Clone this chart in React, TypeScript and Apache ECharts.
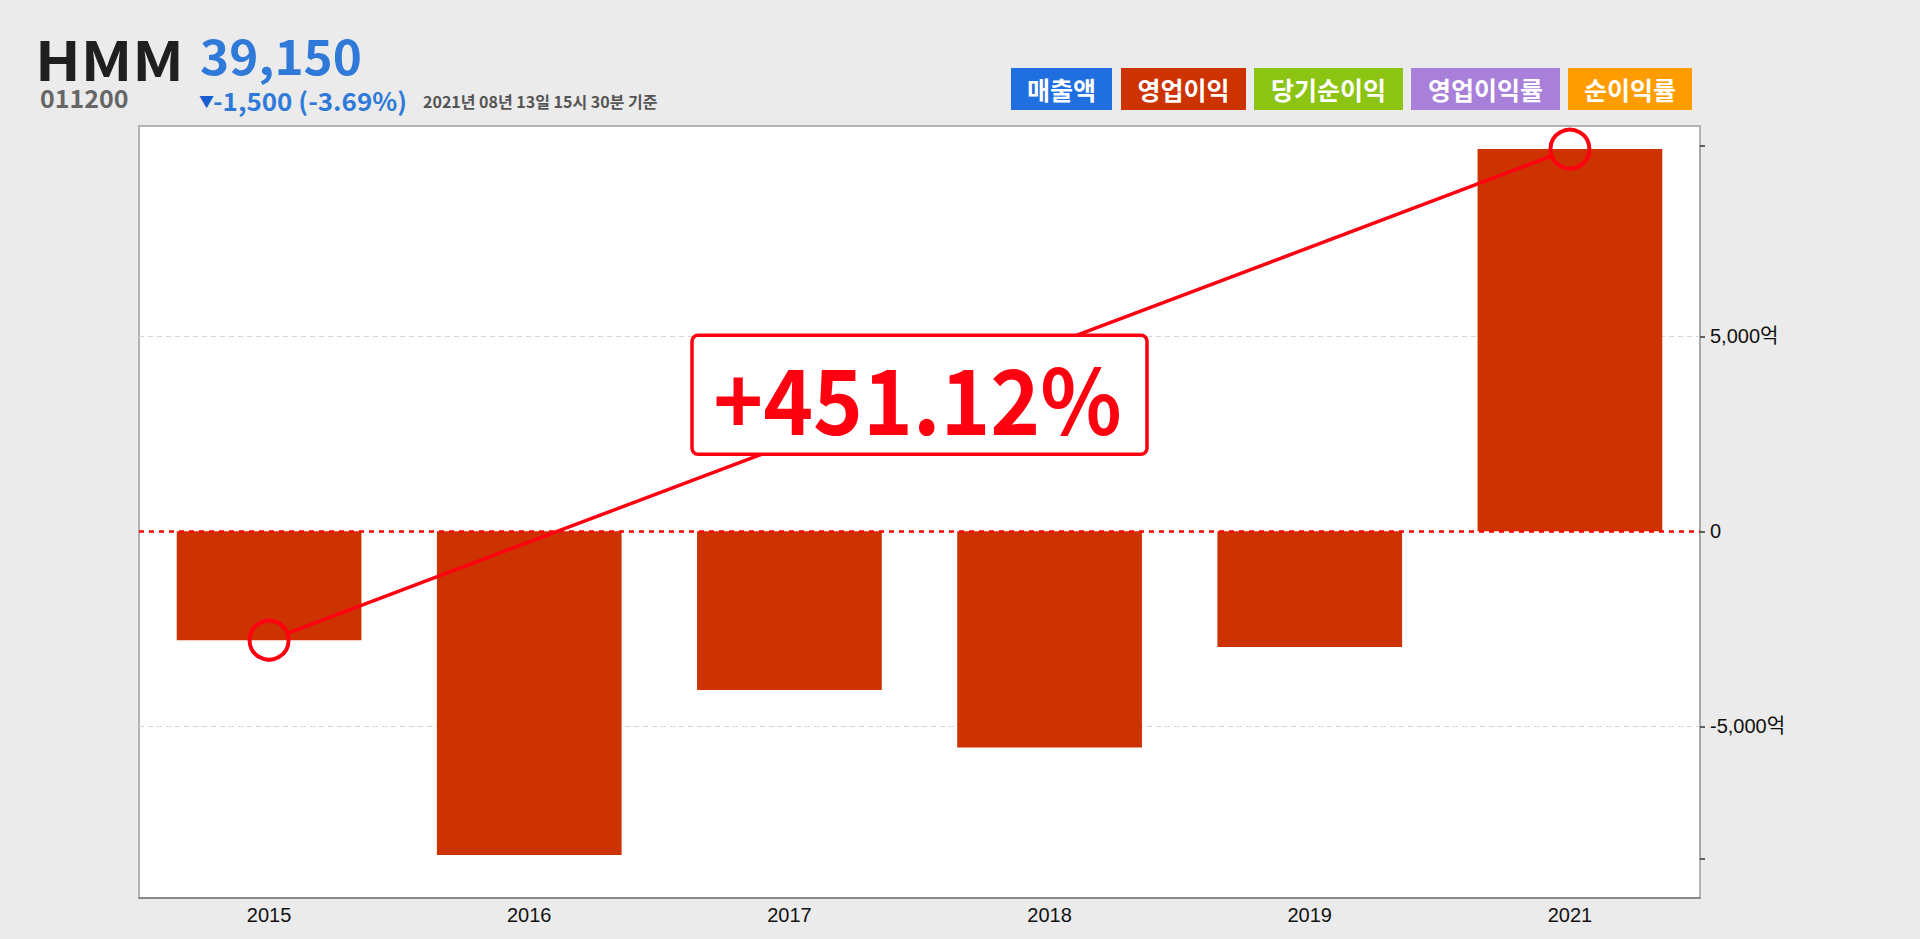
import React, { useEffect, useRef } from 'react';
import * as echarts from 'echarts';

// ---- data ----
const years = ['2015', '2016', '2017', '2018', '2019', '2021'];
const operatingProfit = [-2790, -8300, -4065, -5540, -2965, 9800]; // 억원
const yAxisMin = -8400;
const yAxisMax = 9880;
const labelValues = [-5000, 0, 5000];
const gridValues = [5000, -5000];
const changeLabel = '+451.12%';

const stockName = 'HMM';
const stockCode = '011200';
const priceText = '39,150';
const changeArrow = '▼';
const changeText = '-1,500 (-3.69%)';
const asOfText = '2021년 08년 13일 15시 30분 기준';

const legendNames = ['매출액', '영업이익', '당기순이익', '영업이익률', '순이익률'];
const legendColors = ['#1f6fe0', '#cc3300', '#8cc414', '#a87fd9', '#ff9c00'];

const RED = '#ff0010';
const CJK = "'Noto Sans CJK KR', 'Noto Sans', sans-serif";
const AXISFONT = "'Liberation Sans', 'Noto Sans CJK KR', sans-serif";

function txt(
  id: string,
  x: number,
  y: number,
  text: string,
  size: number,
  weight: string,
  fill: string,
  align = 'left',
  z = 10,
  scaleX = 1
) {
  return {
    type: 'text',
    id,
    x,
    y,
    z,
    scaleX,
    silent: true,
    style: {
      text,
      fontSize: size,
      fontWeight: weight,
      fontFamily: CJK,
      lineHeight: size,
      fill,
      textAlign: align,
      align,
      textVerticalAlign: 'middle',
      verticalAlign: 'middle',
    },
  };
}

export default function App() {
  const ref = useRef<HTMLDivElement>(null);

  useEffect(() => {
    const el = ref.current!;
    const chart = echarts.init(el, null, { renderer: 'svg' });
    const last = operatingProfit.length - 1;
    const lineData = operatingProfit.map((v, i) => (i === 0 || i === last ? v : null));

    const legendX = [1011, 1121, 1254, 1411, 1568];
    const legendW = [101, 125, 149, 149, 124];
    const legendEls: any[] = [];
    legendNames.forEach((name, i) => {
      legendEls.push({
        type: 'rect',
        id: 'lg' + i,
        z: 10,
        silent: true,
        shape: { x: legendX[i], y: 68, width: legendW[i], height: 42 },
        style: { fill: legendColors[i] },
      });
      legendEls.push(txt('lgt' + i, legendX[i] + legendW[i] / 2, 89, name, 25, 'bold', '#ffffff', 'center', 11));
    });

    const option: any = {
      animation: false,
      backgroundColor: '#ebebeb',
      grid: { left: 139, right: 220, top: 146, bottom: 80 },
      xAxis: {
        type: 'category',
        data: years,
        offset: 39,
        axisLine: { onZero: false, lineStyle: { color: '#8a8a8a', width: 2 } },
        axisTick: { alignWithLabel: true, length: 4, lineStyle: { color: '#888' } },
        axisLabel: { color: '#111', fontSize: 20, margin: 7, fontFamily: AXISFONT },
        splitLine: { show: false },
      },
      yAxis: {
        type: 'value',
        position: 'right',
        min: yAxisMin,
        max: yAxisMax,
        splitNumber: 4,
        axisLine: { show: true, lineStyle: { color: '#aaaaaa', width: 2 } },
        axisTick: {
          show: true,
          length: 5,
          customValues: [yAxisMin, ...labelValues, yAxisMax],
          lineStyle: { color: '#333', width: 1.5 },
        },
        axisLabel: {
          customValues: labelValues,
          showMinLabel: true,
          showMaxLabel: true,
          color: '#111',
          fontSize: 20,
          margin: 10,
          fontFamily: AXISFONT,
          formatter: (v: number) => (v === 0 ? '0' : v.toLocaleString('en-US') + '억'),
        },
        splitLine: { show: false },
      },
      series: [
        {
          type: 'bar',
          data: operatingProfit,
          barWidth: '71%',
          itemStyle: { color: '#cc3300' },
          z: 2,
          markLine: {
            z: 1,
            silent: true,
            symbol: 'none',
            label: { show: false },
            lineStyle: { color: '#d6d6d6', type: [5, 4], width: 1 },
            data: gridValues.map((v) => ({ yAxis: v })),
          },
        },
        {
          type: 'line',
          data: lineData,
          connectNulls: true,
          symbol: 'circle',
          symbolSize: 39,
          showAllSymbol: true,
          z: 6,
          lineStyle: { width: 0, opacity: 0 },
          itemStyle: { color: 'rgba(0,0,0,0)', borderColor: RED, borderWidth: 4 },
          markLine: {
            z: 5,
            silent: true,
            symbol: 'none',
            label: { show: false },
            lineStyle: { color: '#ff0000', type: [5, 5], width: 2.5 },
            data: [{ yAxis: 0 }],
          },
        },
      ],
      graphic: {
        elements: [
          {
            type: 'rect',
            id: 'plotbg',
            z: -1,
            silent: true,
            shape: { x: 139, y: 126, width: 1561, height: 772 },
            style: { fill: '#ffffff', stroke: '#b3b3b3', lineWidth: 2 },
          },
          txt('name', 35, 57, stockName, 54, 'bold', '#1f1f1f', 'left', 10, 1.12),
          txt('code', 40, 97, stockCode, 25, 'bold', '#666666'),
          txt('price', 200, 54, priceText, 48, 'bold', '#2f7ad8', 'left', 10, 1.03),
          txt('arrow', 199, 100, changeArrow, 15, 'normal', '#1a5fd0'),
          txt('chg', 213, 100, changeText, 25, 'bold', '#2f7ad8', 'left', 10, 1.04),
          txt('asof', 423, 101, asOfText, 16, 'bold', '#555555'),
          ...legendEls,
        ],
      },
    };

    chart.setOption(option);

    const p0 = chart.convertToPixel({ seriesIndex: 1 }, [years[0], operatingProfit[0]]) as number[];
    const p1 = chart.convertToPixel({ seriesIndex: 1 }, [years[last], operatingProfit[last]]) as number[];
    const dx = p1[0] - p0[0];
    const dy = p1[1] - p0[1];
    const len = Math.sqrt(dx * dx + dy * dy);
    const r = 19.5;
    const ux = dx / len;
    const uy = dy / len;
    const mx = (p0[0] + p1[0]) / 2;
    const my = (p0[1] + p1[1]) / 2;
    const bw = 455;
    const bh = 119;

    chart.setOption({
      graphic: {
        elements: [
          {
            type: 'line',
            id: 'trend',
            z: 20,
            silent: true,
            shape: { x1: p0[0] + ux * r, y1: p0[1] + uy * r, x2: p1[0] - ux * r, y2: p1[1] - uy * r },
            style: { stroke: RED, lineWidth: 3.5 },
          },
          {
            type: 'rect',
            id: 'badge',
            z: 21,
            silent: true,
            shape: { x: mx - bw / 2, y: my - bh / 2, width: bw, height: bh, r: 6 },
            style: { fill: '#ffffff', stroke: RED, lineWidth: 3.5 },
          },
          txt('badgeText', mx - 2, my + 1, changeLabel, 90, 'bold', RED, 'center', 22, 0.94),
        ],
      },
    });

    return () => {
      chart.dispose();
    };
  }, []);

  return (
    <div
      ref={ref}
      style={{ position: 'fixed', left: 0, top: 0, width: 1920, height: 939, background: '#ebebeb' }}
    />
  );
}
